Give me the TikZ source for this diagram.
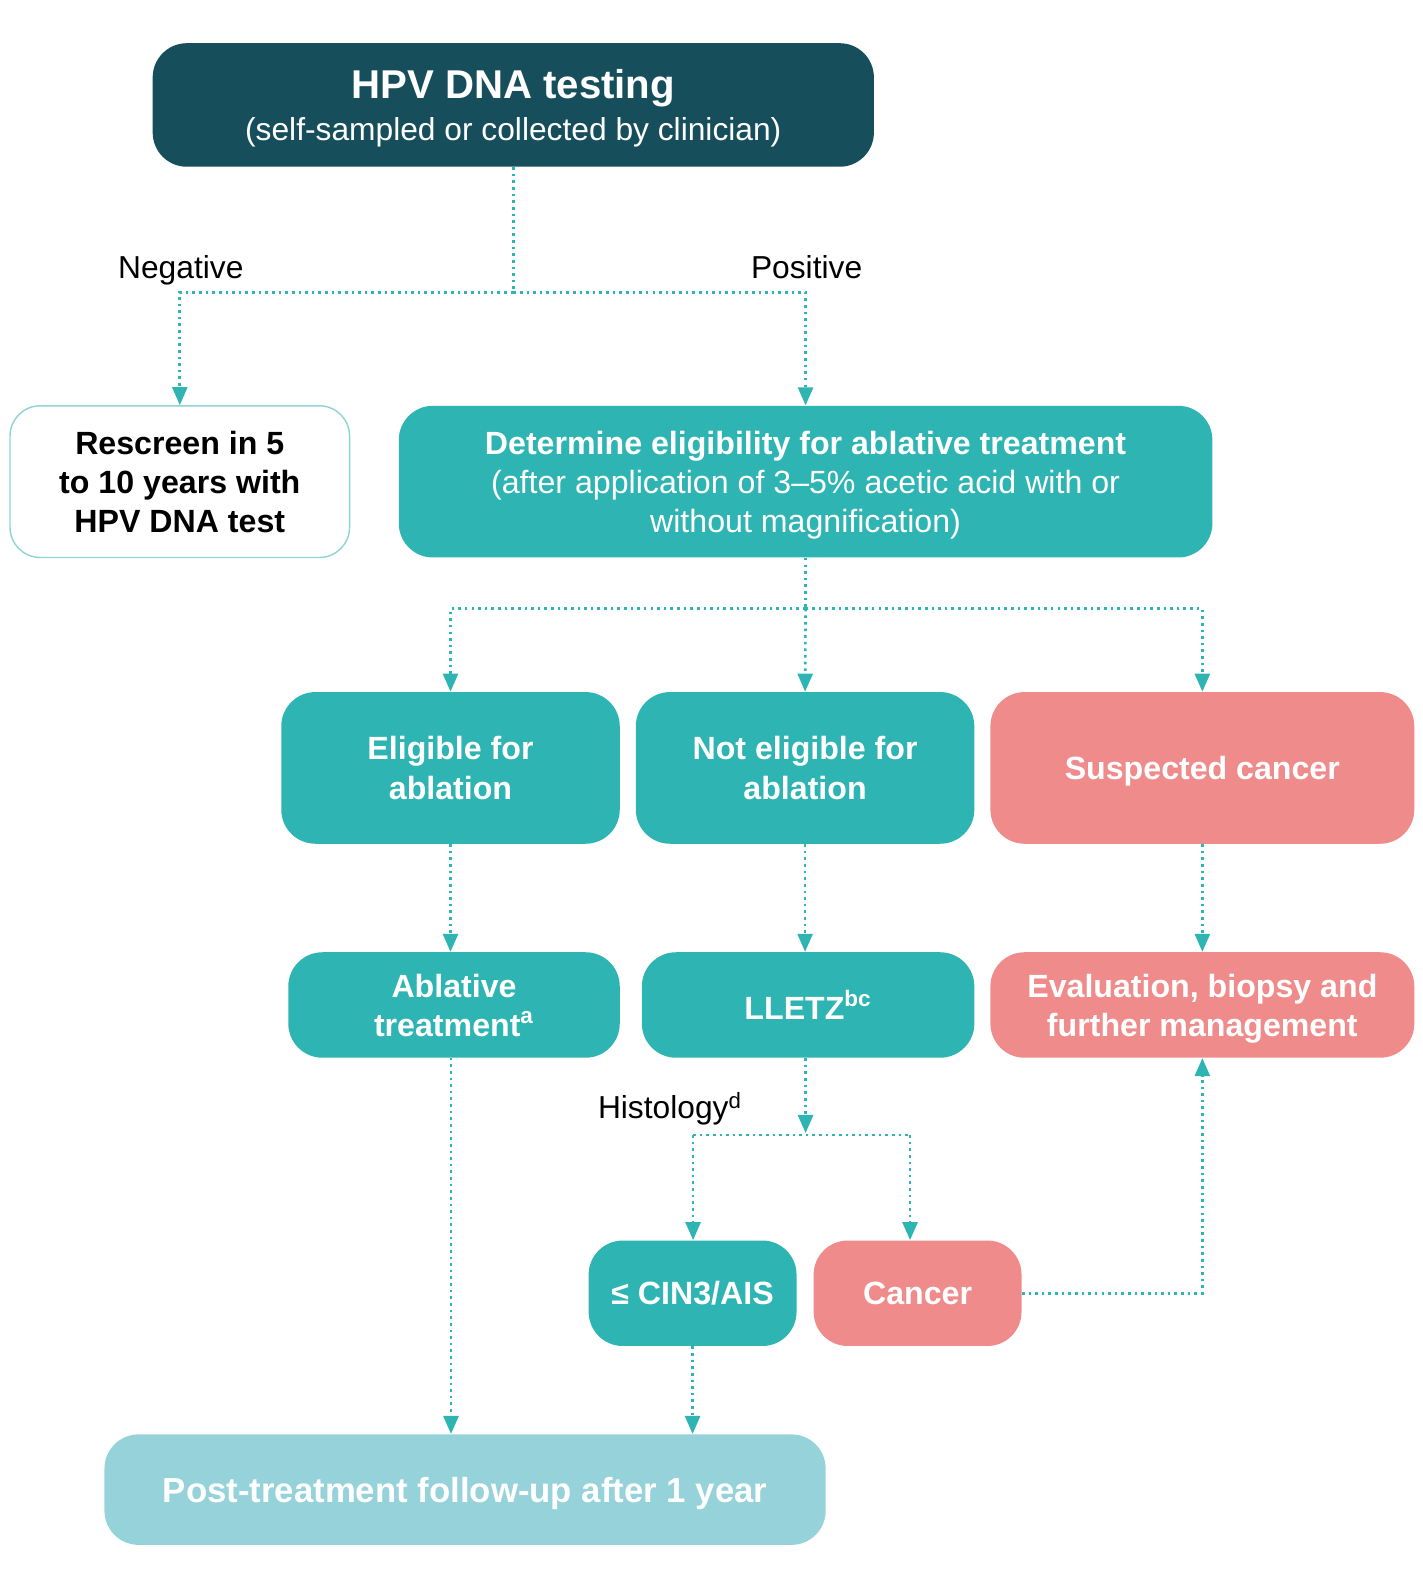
\documentclass[tikz,border=0pt]{standalone}
\usepackage{fontspec}
\setmainfont{Liberation Sans}
\usetikzlibrary{arrows.meta}

\definecolor{darkteal}{HTML}{164F5B}
\definecolor{teal}{HTML}{2EB4B2}
\definecolor{rose}{HTML}{EF8B8B}
\definecolor{paleblue}{HTML}{95D2DA}
\definecolor{rim}{HTML}{8FD4D4}

\begin{document}
\begin{tikzpicture}[
    x=0.5pt, y=-0.5pt,
    box/.style = { rounded corners=17pt, align=center, text=white, inner sep=0pt, text depth=0pt,
                   font=\fontsize{16}{19.5}\selectfont\bfseries },
    tealbox/.style = { box, fill=teal },
    rosebox/.style = { box, fill=rose },
    link/.style = { teal, line width=1.3pt, dash pattern=on 1.3pt off 2pt },
    arrow/.style = { link, -{Triangle[width=7.5pt, length=9pt]} },
    tag/.style = { anchor=base, font=\fontsize{15.8}{18}\selectfont },
    ]

    \useasboundingbox (0,0) rectangle (1416,1568);

    % boxes
    \node[box, fill=darkteal, minimum width=359pt, minimum height=61.5pt,
          font=\fontsize{15.8}{20.5}\selectfont] (hpv) at (511, 104.5)
          {{\fontsize{20}{22}\selectfont\bfseries HPV DNA testing}\\(self-sampled or collected by clinician)};
    \node[box, fill=white, draw=rim, line width=0.7pt, text=black, rounded corners=15pt,
          minimum width=169pt, minimum height=75.5pt] (rescreen) at (179, 479.5)
          {Rescreen in 5\\to 10 years with\\HPV DNA test};
    \node[tealbox, minimum width=405pt, minimum height=75.5pt] (determine) at (802, 479.5)
          {Determine eligibility for ablative treatment\\
           \mdseries (after application of 3--5\% acetic acid with or\\
           \mdseries without magnification)};
    \node[tealbox, minimum width=168.5pt, minimum height=75.5pt] (eligible) at (448.5, 764.5)
          {Eligible for\\ablation};
    \node[tealbox, minimum width=168.5pt, minimum height=75.5pt] (noteligible) at (801.5, 764.5)
          {Not eligible for\\ablation};
    \node[rosebox, minimum width=211pt, minimum height=75.5pt] (suspected) at (1197, 764.5)
          {Suspected cancer};
    \node[tealbox, minimum width=165pt, minimum height=52.5pt] (ablative) at (452, 1000.5)
          {Ablative\\treatment\textsuperscript{a}};
    \node[tealbox, minimum width=165.5pt, minimum height=52.5pt] (lletz) at (804.5, 1000.5)
          {LLETZ\textsuperscript{bc}};
    \node[rosebox, minimum width=211pt, minimum height=52.5pt] (evaluation) at (1197, 1000.5)
          {Evaluation, biopsy and\\further management};
    \node[tealbox, minimum width=103.5pt, minimum height=52.5pt] (cin) at (689.5, 1287.5)
          {≤ CIN3/AIS};
    \node[rosebox, minimum width=103.5pt, minimum height=52.5pt] (cancer) at (913.5, 1287.5)
          {Cancer};
    \node[box, fill=paleblue, minimum width=359pt, minimum height=55pt,
          font=\fontsize{17.3}{20}\selectfont\bfseries] (followup) at (463, 1483)
          {Post-treatment follow-up after 1 year};

    % branch points
    \coordinate (result) at (511, 291);
    \coordinate (grade) at (802, 606);
    \coordinate (histology) at (802, 1130);

    \node[tag] (negative) at (180, 277) {Negative};
    \node[tag] (positive) at (803, 277) {Positive};
    \node[tag] (histotag) at (667, 1114) {Histology\textsuperscript{d}};

    % connectors
    \draw[link] (hpv) -- (result);
    \draw[arrow] (result) -| (rescreen.north);
    \draw[arrow] (result) -| (determine.north);
    \draw[link] (determine) -- (grade);
    \draw[arrow] (grade) -| (eligible.north);
    \draw[arrow] (grade) -- (noteligible.north);
    \draw[arrow] (grade) -| (suspected.north);
    \draw[arrow] (eligible) -- (eligible.south |- ablative.north);
    \draw[arrow] (noteligible) -- (noteligible.south |- lletz.north);
    \draw[arrow] (suspected) -- (evaluation);
    \draw[arrow] (lletz.south -| histology) -- ([yshift=1pt]histology);
    \draw[link] (690, 1130) -- (906, 1130);
    \draw[arrow] (690, 1130) -- (cin.north -| 690, 0);
    \draw[arrow] (906, 1130) -- (cancer.north -| 906, 0);
    \draw[arrow] (cancer.east) -| (evaluation.south);
    \draw[arrow] (449, 1053) -- (followup.north -| 449, 0);
    \draw[arrow] (cin) -- (cin.south |- followup.north);

  \end{tikzpicture}
\end{document}
